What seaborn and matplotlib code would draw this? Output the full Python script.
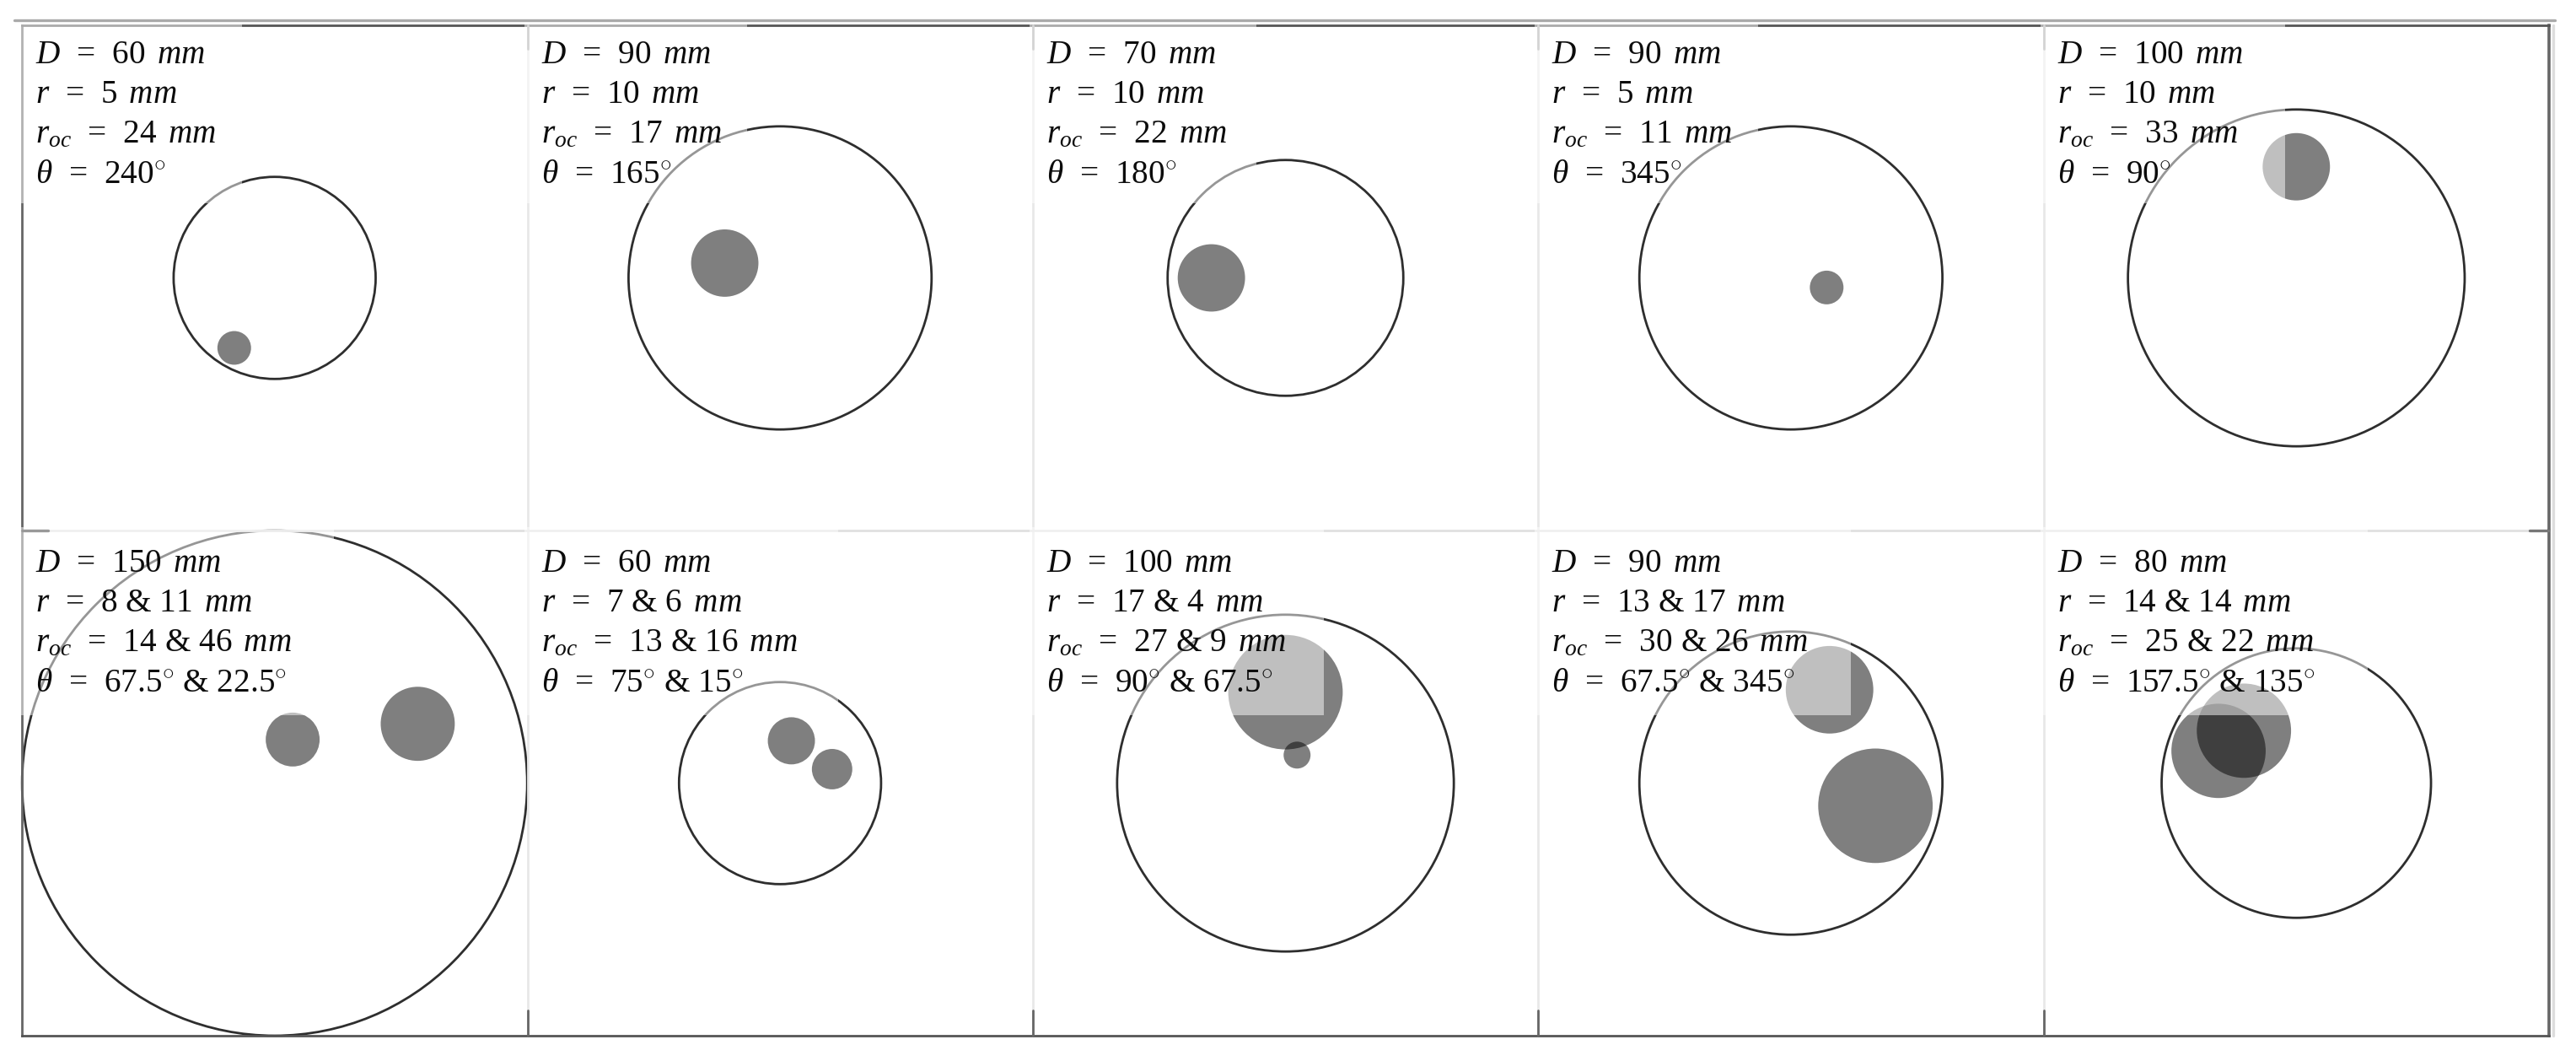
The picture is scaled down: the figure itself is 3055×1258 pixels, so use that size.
import numpy as np
import pandas as pd
import matplotlib.pyplot as plt
import seaborn as sns
from matplotlib.lines import Line2D
from matplotlib.patches import Circle, Rectangle

sns.set_theme(style="white")
plt.rcParams['font.family'] = ['Liberation Serif', 'DejaVu Serif']
plt.rcParams['mathtext.fontset'] = 'custom'
plt.rcParams['mathtext.rm'] = 'Liberation Serif'
plt.rcParams['mathtext.it'] = 'Liberation Serif:italic'

# one entry per panel, row by row
panels = list(range(10))
diameters = [60, 90, 70, 90, 100, 150, 60, 100, 90, 80]
radii = [[5], [10], [10], [5], [10], [8, 11], [7, 6], [17, 4], [13, 17], [14, 14]]
offsets = [[24], [17], [22], [11], [33], [14, 46], [13, 16], [27, 9], [30, 26], [25, 22]]
angles = [[240], [165], [180], [345], [90], [67.5, 22.5], [75, 15], [90, 67.5], [67.5, 345], [157.5, 135]]

# width of the white label box in each panel, pixels
box_widths = [261, 261, 265, 261, 286, 370, 369, 345, 371, 384]

W, H = 3055, 1258
LEFT, RIGHT, TOP, BOTTOM = 26, 3023, 30, 1228
PANEL = (RIGHT - LEFT) / 5

rows = []
for p in panels:
    for r, roc, th in zip(radii[p], offsets[p], angles[p]):
        rows.append({'panel': p, 'D': diameters[p], 'r': r, 'roc': roc, 'theta': th})
df = pd.DataFrame(rows)


def join(vals, unit=''):
    return r'$ & $'.join(f'{v:g}{unit}' for v in vals)


def draw_panel(data, **kwargs):
    ax = plt.gca()
    p = data['panel'].iloc[0]
    row = p // 5
    col = p % 5

    ax.add_patch(Circle((0, 0), diameters[p] / 2, fc='none', ec='#2e2e2e', lw=2.0, clip_on=False, zorder=2))
    for _, hole in data.iterrows():
        th = np.radians(hole['theta'])
        xy = (hole['roc'] * np.cos(th), hole['roc'] * np.sin(th))
        ax.add_patch(Circle(xy, hole['r'], fc='black', alpha=0.5, lw=0, zorder=2))

    # frame: dark outside, very light between the panels
    for side in ax.spines.values():
        side.set_color('#e8e8e8')
        side.set_linewidth(2)
    ax.spines['right'].set_visible(col == 4)
    ax.spines['bottom'].set_visible(row == 1)
    ax.spines['top'].set_color('#555555' if row == 0 else '#e0e0e0')
    if row == 1:
        ax.spines['bottom'].set_color('#555555')
    if col == 0:
        ax.spines['left'].set_color('#666666')
    if col == 4:
        ax.spines['right'].set_color('#666666')
        ax.spines['right'].set_linewidth(2.6)

    # short darker stubs on the inner lines
    if col > 0:
        if row == 0:
            ax.plot([0, 0], [1 - 28 / PANEL, 1], color='#aaaaaa', lw=2, transform=ax.transAxes, clip_on=False, zorder=2.6)
        else:
            ax.plot([0, 0], [0, 30 / PANEL], color='#666666', lw=2, transform=ax.transAxes, clip_on=False, zorder=2.6)

    # half transparent label box, it also fades whatever lies under it
    box_h = (211 if row == 0 else 219) / PANEL
    ax.add_patch(Rectangle((-4 / PANEL, 1 - box_h), box_widths[p] / PANEL + 4 / PANEL, box_h + 4 / PANEL,
                           transform=ax.transAxes, fc='white', alpha=0.5, lw=0, clip_on=False, zorder=3))

    lines = [
        rf'$D\ \,=\ \,{diameters[p]}\ \,mm$',
        rf'$r\ \,=\ \,{join(radii[p])}\ \,mm$',
        rf'$r_{{oc}}\ \,=\ \,{join(offsets[p])}\ \,mm$',
        rf'$\theta\ \,=\ \,{join(angles[p], "^{\\circ}")}$',
    ]
    base = 45 if row == 0 else 49
    for i, line in enumerate(lines):
        ax.text(16 / PANEL, 1 - (base + i * 47.3) / PANEL, line, transform=ax.transAxes,
                fontsize=28.3, color='#0c0c0c', va='baseline', ha='left', zorder=4)


g = sns.FacetGrid(df, col='panel', col_wrap=5, height=3, aspect=1, sharex=True, sharey=True, despine=False)
g.map_dataframe(draw_panel)
g.set(xlim=(-75, 75), ylim=(-75, 75), xticks=[], yticks=[])
g.set_titles('')
g.set_axis_labels('', '')
for ax in g.axes.flat:
    ax.set_aspect('equal', adjustable='box')

fig = g.figure
fig.set_size_inches(W / 100, H / 100)
fig.subplots_adjust(left=LEFT / W, right=RIGHT / W, top=1 - TOP / H, bottom=1 - BOTTOM / H, wspace=0, hspace=0)

# scan leftovers around the table
fig.add_artist(Line2D([17 / W, 3030 / W], [1 - 24 / H, 1 - 24 / H], color='#aaaaaa', lw=2.4))
fig.add_artist(Line2D([3028 / W, 3028 / W], [1 - 30 / H, 1 - 1228 / H], color='#dddddd', lw=2.4))
fig.add_artist(Line2D([LEFT / W, 57 / W], [1 - 629 / H, 1 - 629 / H], color='#999999', lw=2.4))
fig.add_artist(Line2D([3000 / W, RIGHT / W], [1 - 629 / H, 1 - 629 / H], color='#777777', lw=2.4))

fig.savefig('out.png', dpi=100, facecolor='white')
